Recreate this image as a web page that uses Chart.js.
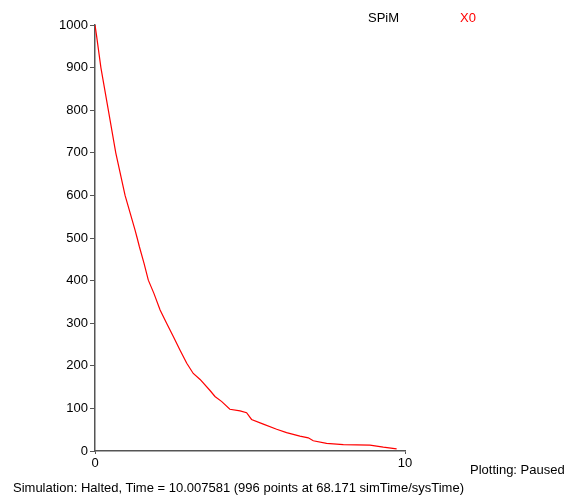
<!DOCTYPE html>
<html>
<head>
<meta charset="utf-8">
<script src="https://cdn.jsdelivr.net/npm/chart.js@4.4.1/dist/chart.umd.min.js"></script>
<style>
  html, body { margin: 0; padding: 0; background: #fff; }
  #wrap { position: relative; width: 568px; height: 498px; font-family: "Liberation Sans", Arial, sans-serif; font-size: 13px; color: #000; }
  #plot { position: absolute; left: 0; top: 0; }
  .lbl { position: absolute; white-space: nowrap; line-height: 15px; }
</style>
</head>
<body>
<div id="wrap">
  <canvas id="plot" width="568" height="498"></canvas>
  <div class="lbl" style="left:368px; top:10px;">SPiM</div>
  <div class="lbl" style="left:460px; top:10px; color:#ff0000;">X0</div>
  <div class="lbl" style="left:470px; top:462px;">Plotting: Paused</div>
  <div class="lbl" style="left:13px; top:480px;">Simulation: Halted, Time = 10.007581 (996 points at 68.171 simTime/sysTime)</div>
</div>
<script>
// values
const times = [0, 0.05, 0.19, 0.43, 0.67, 0.97, 1.29, 1.36, 1.43, 1.58, 1.72, 1.90, 2.10, 2.31, 2.53, 2.74, 2.96, 3.17, 3.39, 3.71, 3.87, 4.09, 4.35, 4.68, 4.89, 5.05, 5.43, 5.86, 6.18, 6.61, 6.88, 7.04, 7.47, 8.01, 8.87, 9.30, 9.73];
const x0Values = [1000, 975, 900, 800, 700, 600, 519, 500, 480, 441, 401, 370, 331, 300, 268, 237, 206, 182, 168, 142, 128, 116, 98, 94, 90, 74, 63, 51, 43, 35, 31, 24, 18, 15, 14, 9, 5];
const xTicks = [0, 10];
const yTicks = [0, 100, 200, 300, 400, 500, 600, 700, 800, 900, 1000];

Chart.defaults.font.family = '"Liberation Sans", Arial, sans-serif';
Chart.defaults.font.size = 13;
Chart.defaults.color = '#000';

const points = times.map((t, i) => ({ x: t, y: x0Values[i] }));

new Chart(document.getElementById('plot').getContext('2d'), {
  type: 'line',
  data: {
    datasets: [{
      label: 'X0',
      data: points,
      borderColor: '#ff0000',
      borderWidth: 1.2,
      pointRadius: 0,
      tension: 0,
      fill: false
    }]
  },
  options: {
    responsive: false,
    animation: false,
    layout: { padding: { top: 25, right: 163, left: 0, bottom: 0 } },
    plugins: { legend: { display: false }, tooltip: { enabled: false } },
    scales: {
      x: {
        type: 'linear',
        min: 0, max: 10,
        afterBuildTicks: s => { s.ticks = xTicks.map(v => ({ value: v })); },
        afterFit: s => { s.height = 47; },
        grid: { drawOnChartArea: false, drawTicks: true, tickLength: 3, color: '#555' },
        border: { display: true, color: '#555', width: 1.5 },
        ticks: { padding: 2, maxRotation: 0, color: '#000', callback: v => String(v) }
      },
      y: {
        min: 0, max: 1000,
        afterBuildTicks: s => { s.ticks = yTicks.map(v => ({ value: v })); },
        afterFit: s => { s.width = 95; },
        grid: { drawOnChartArea: false, drawTicks: true, tickLength: 5, color: '#555' },
        border: { display: true, color: '#555', width: 1.5 },
        ticks: { padding: 2, color: '#000', callback: v => String(v) }
      }
    }
  }
});
</script>
</body>
</html>
